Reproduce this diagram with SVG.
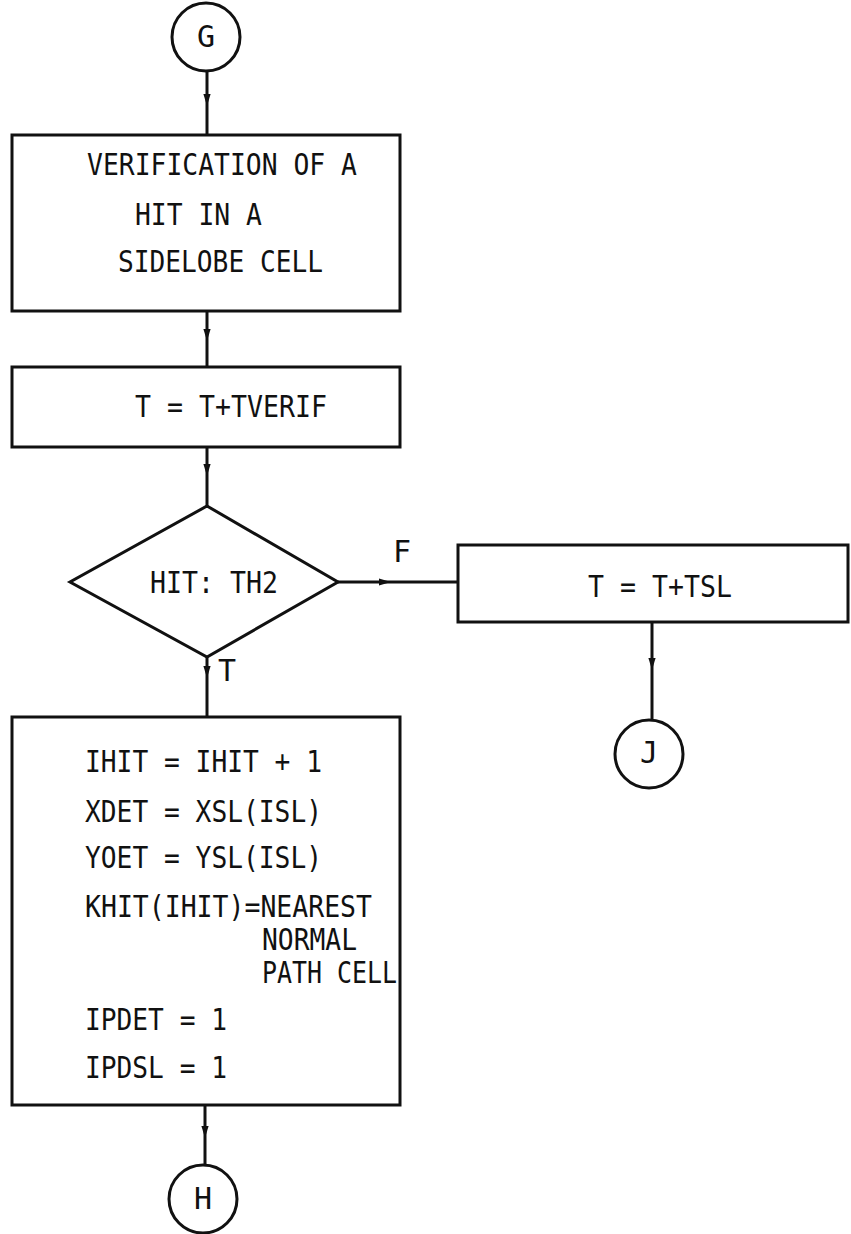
<svg xmlns="http://www.w3.org/2000/svg" width="851" height="1234" viewBox="0 0 851 1234">
<style>
  .shape { fill: none; stroke: #111; stroke-width: 3; }
  .conn { fill: none; stroke: #111; stroke-width: 3; }
  .t { font-family: "DejaVu Sans Mono", "Liberation Mono", monospace; font-size: 30px; fill: #111; }
  .c { text-anchor: middle; }
</style>
<defs>
  <marker id="arr" viewBox="0 0 10 10" refX="5" refY="5" markerWidth="4" markerHeight="5" orient="auto" markerUnits="strokeWidth">
    <path d="M0,2 L10,5 L0,8 Z" fill="#111"/>
  </marker>
</defs>
<rect width="851" height="1234" fill="#fff"/>

<g id="connectors">
  <path class="conn" d="M207,72 L207,100 L207,135" marker-mid="url(#arr)"/>
  <path class="conn" d="M207,311 L207,335 L207,367" marker-mid="url(#arr)"/>
  <path class="conn" d="M207,447 L207,470 L207,506" marker-mid="url(#arr)"/>
  <path class="conn" d="M207,657 L207,672 L207,717" marker-mid="url(#arr)"/>
  <path class="conn" d="M338,582 L385,582 L458,582" marker-mid="url(#arr)"/>
  <path class="conn" d="M652,622 L652,664 L652,720" marker-mid="url(#arr)"/>
  <path class="conn" d="M205,1105 L205,1132 L205,1165" marker-mid="url(#arr)"/>
  <text class="t" x="393" y="562" font-size="27">F</text>
  <text class="t" x="218" y="681" font-size="25">T</text>
</g>

<g id="node-G">
  <circle class="shape" cx="206" cy="37" r="34"/>
  <text class="t c" x="206" y="47" font-size="27">G</text>
</g>

<g id="node-verify">
  <rect class="shape" x="12" y="135" width="388" height="176"/>
  <text class="t" x="87" y="175" textLength="270" lengthAdjust="spacingAndGlyphs">VERIFICATION OF A</text>
  <text class="t" x="135" y="225" textLength="127" lengthAdjust="spacingAndGlyphs">HIT IN A</text>
  <text class="t" x="118" y="272" textLength="205" lengthAdjust="spacingAndGlyphs">SIDELOBE CELL</text>
</g>

<g id="node-tverif">
  <rect class="shape" x="12" y="367" width="388" height="80"/>
  <text class="t" x="135" y="417" textLength="192" lengthAdjust="spacingAndGlyphs">T = T+TVERIF</text>
</g>

<g id="node-decision">
  <polygon class="shape" points="207,506 338,582 207,657 70,582"/>
  <text class="t" x="150" y="593" textLength="128" lengthAdjust="spacingAndGlyphs">HIT: TH2</text>
</g>

<g id="node-tsl">
  <rect class="shape" x="458" y="545" width="390" height="77"/>
  <text class="t" x="588" y="597" textLength="144" lengthAdjust="spacingAndGlyphs">T = T+TSL</text>
</g>

<g id="node-J">
  <circle class="shape" cx="649" cy="754" r="34"/>
  <text class="t c" x="649" y="763" font-size="25">J</text>
</g>

<g id="node-update">
  <rect class="shape" x="12" y="717" width="388" height="388"/>
  <text class="t" x="85" y="772" textLength="237" lengthAdjust="spacingAndGlyphs">IHIT = IHIT + 1</text>
  <text class="t" x="85" y="822" textLength="237" lengthAdjust="spacingAndGlyphs">XDET = XSL(ISL)</text>
  <text class="t" x="85" y="868" textLength="237" lengthAdjust="spacingAndGlyphs">YOET = YSL(ISL)</text>
  <text class="t" x="85" y="917" textLength="287" lengthAdjust="spacingAndGlyphs">KHIT(IHIT)=NEAREST</text>
  <text class="t" x="262" y="950" font-size="27" textLength="95" lengthAdjust="spacingAndGlyphs">NORMAL</text>
  <text class="t" x="262" y="983" font-size="27" textLength="135" lengthAdjust="spacingAndGlyphs">PATH CELL</text>
  <text class="t" x="85" y="1030" textLength="142" lengthAdjust="spacingAndGlyphs">IPDET = 1</text>
  <text class="t" x="85" y="1078" textLength="142" lengthAdjust="spacingAndGlyphs">IPDSL = 1</text>
</g>

<g id="node-H">
  <circle class="shape" cx="203" cy="1199" r="34"/>
  <text class="t c" x="203" y="1209" font-size="27">H</text>
</g>
</svg>
